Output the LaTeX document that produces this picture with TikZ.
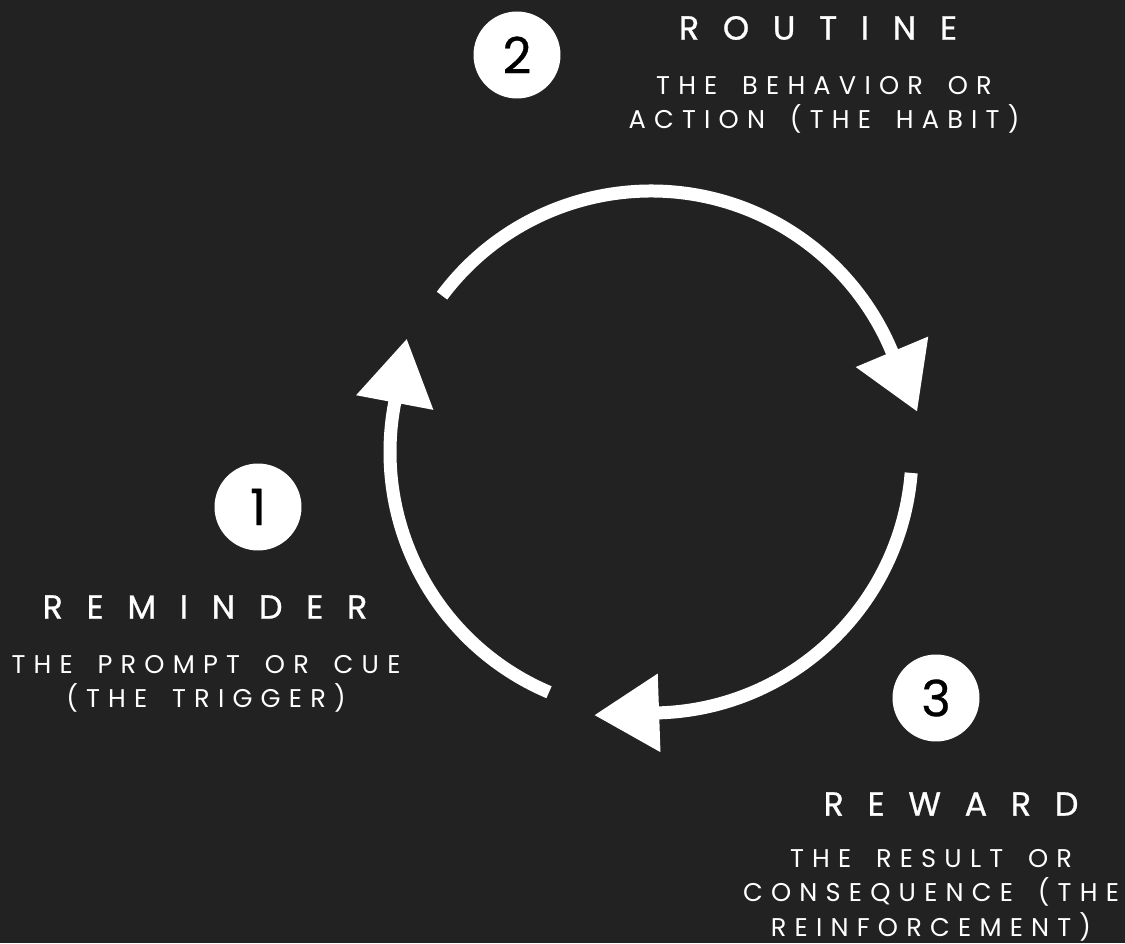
\documentclass[tikz,border=0pt]{standalone}
\usepackage{fontspec}
\setmainfont{Poppins}
\newfontfamily\headfont[LetterSpace=71,FakeBold=0.8]{Poppins}
\newfontfamily\subfont[LetterSpace=32,WordSpace=1.65]{Poppins}
\newfontfamily\numfont[FakeBold=0.6]{Poppins}
\usetikzlibrary{arrows.meta}
\definecolor{bgdark}{HTML}{222222}

\begin{document}
\begin{tikzpicture}[x=0.02cm,y=0.02cm,>={Triangle[length=1.3cm,width=1.5cm]},
    loop/.style={draw=white,line width=0.26cm,->},
    num/.style={circle,fill=white,text=black,minimum size=1.74cm,inner sep=0pt,font=\numfont\fontsize{28.5}{28.5}\selectfont},
    head/.style={text=white,inner sep=0pt,font=\headfont\fontsize{19}{19}\selectfont},
    sub/.style={text=white,inner sep=0pt,align=center,anchor=north,font=\subfont\fontsize{14.6}{19.6}\selectfont}]
  \useasboundingbox (0, 0) rectangle (1125, 943);
  \fill[bgdark] (0, 0) rectangle (1125, 943);
  \coordinate (o) at (651, 943 - 452);
  \draw[loop] ([shift={(143.2:261)}]o) arc[start angle=143.2, end angle=22.8, radius=261] -- ++(-67.2:66);
  \draw[loop] ([shift={(-4.6:261)}]o) arc[start angle=-4.6, end angle=-88, radius=261] -- ++(-178:66);
  \draw[loop] ([shift={(247:261)}]o) arc[start angle=247, end angle=169.3, radius=261] -- ++(79.3:66);
  \node[num] (one) at (258, 943 - 507) {1};
  \node[head] (reminder) at (205, 943 - 607) {REMINDER};
  \node[sub] (cue) at (206, 943 - 655) {THE PROMPT OR CUE\\(THE TRIGGER)};
  \node[num] (two) at (517, 943 - 55) {2};
  \node[head] (routine) at (818, 943 - 28) {ROUTINE};
  \node[sub] (habit) at (824, 943 - 76) {THE BEHAVIOR OR\\ACTION (THE HABIT)};
  \node[num] (three) at (936, 943 - 698) {3};
  \node[head] (reward) at (951, 943 - 804) {REWARD};
  \node[sub] (result) at (931, 943 - 849) {THE RESULT OR\\CONSEQUENCE (THE\\REINFORCEMENT)};
\end{tikzpicture}
\end{document}
